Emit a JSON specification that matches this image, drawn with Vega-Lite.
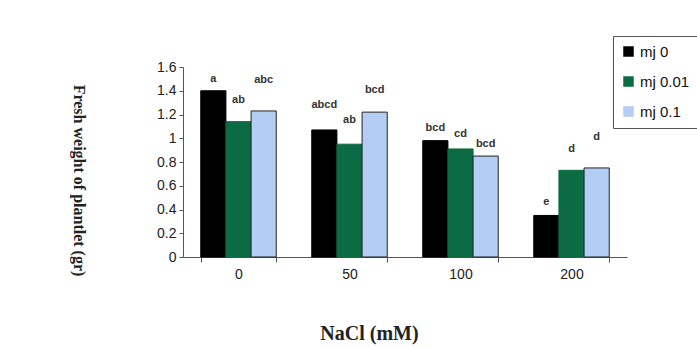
{
  "$schema": "https://vega.github.io/schema/vega-lite/v6.json",
  "autosize": {"type": "none"},
  "padding": {"left": 183, "top": 67, "right": 70, "bottom": 92},
  "width": 444,
  "height": 190,
  "background": "white",
  "config": {
    "view": {"stroke": null},
    "font": "Liberation Sans"
  },
  "resolve": {"axis": {"y": "independent"}},
  "data": {
    "values": [
      {"NaCl": "0", "mj": "mj 0", "weight": 1.40, "letter": "a", "letter_at": 1.50},
      {"NaCl": "0", "mj": "mj 0.01", "weight": 1.14, "letter": "ab", "letter_at": 1.32},
      {"NaCl": "0", "mj": "mj 0.1", "weight": 1.23, "letter": "abc", "letter_at": 1.49},
      {"NaCl": "50", "mj": "mj 0", "weight": 1.07, "letter": "abcd", "letter_at": 1.28},
      {"NaCl": "50", "mj": "mj 0.01", "weight": 0.95, "letter": "ab", "letter_at": 1.15},
      {"NaCl": "50", "mj": "mj 0.1", "weight": 1.22, "letter": "bcd", "letter_at": 1.41},
      {"NaCl": "100", "mj": "mj 0", "weight": 0.98, "letter": "bcd", "letter_at": 1.09},
      {"NaCl": "100", "mj": "mj 0.01", "weight": 0.91, "letter": "cd", "letter_at": 1.04},
      {"NaCl": "100", "mj": "mj 0.1", "weight": 0.85, "letter": "bcd", "letter_at": 0.95},
      {"NaCl": "200", "mj": "mj 0", "weight": 0.35, "letter": "e", "letter_at": 0.46},
      {"NaCl": "200", "mj": "mj 0.01", "weight": 0.73, "letter": "d", "letter_at": 0.91},
      {"NaCl": "200", "mj": "mj 0.1", "weight": 0.75, "letter": "d", "letter_at": 1.01}
    ]
  },
  "encoding": {
    "x": {
      "field": "NaCl", "type": "nominal", "sort": ["0", "50", "100", "200"],
      "scale": {"paddingInner": 0.32, "paddingOuter": 0.16},
      "axis": {
        "labelAngle": 0, "labelFont": "Liberation Sans", "labelFontSize": 14, "labelColor": "#222",
        "labelPadding": 5, "tickBand": "extent", "tickSize": 5, "tickColor": "#555",
        "domainColor": "#555", "title": "NaCl (mM)", "titleFont": "Liberation Serif",
        "titleFontSize": 20, "titleFontWeight": "bold", "titleColor": "#222",
        "titleX": 186, "titleY": 76, "titleAlign": "center", "titleBaseline": "middle"
      }
    },
    "xOffset": {
      "field": "mj", "type": "nominal", "sort": ["mj 0", "mj 0.01", "mj 0.1"],
      "scale": {"paddingInner": 0, "paddingOuter": 0}
    }
  },
  "layer": [
    {
      "mark": {"type": "bar", "strokeWidth": 1},
      "encoding": {
        "y": {
          "field": "weight", "type": "quantitative",
          "scale": {"domain": [0, 1.6], "nice": false},
          "axis": {
            "values": [0, 0.2, 0.4, 0.6, 0.8, 1, 1.2, 1.4, 1.6], "format": ".1~f",
            "labelOverlap": false, "labelFlush": false,
            "grid": false, "labelFont": "Liberation Sans", "labelFontSize": 14, "labelColor": "#222",
            "labelPadding": 3, "tickSize": 4, "tickColor": "#555", "domainColor": "#555",
            "title": "Fresh weight of plantlet (gr)", "titleFont": "Liberation Serif",
            "titleFontSize": 16, "titleFontWeight": "bold", "titleColor": "#222",
            "titleAngle": 90, "titleX": -105, "titleY": 113, "titleAlign": "center", "titleBaseline": "middle"
          }
        },
        "fill": {
          "field": "mj", "type": "nominal",
          "scale": {"domain": ["mj 0", "mj 0.01", "mj 0.1"], "range": ["#000000", "#0b6b43", "#b3cef5"]},
          "legend": {
            "title": null, "orient": "none", "legendX": 430, "legendY": -31,
            "symbolType": "square", "symbolSize": 110, "symbolStrokeWidth": 0,
            "labelFont": "Liberation Sans", "labelFontSize": 15, "labelColor": "#111",
            "labelOffset": 4, "rowPadding": 14, "padding": 8,
            "strokeColor": "#555", "fillColor": "white"
          }
        },
        "stroke": {
          "field": "mj", "type": "nominal",
          "scale": {"domain": ["mj 0", "mj 0.01", "mj 0.1"], "range": ["#000000", "#0b6b43", "#222222"]},
          "legend": null
        }
      }
    },
    {
      "mark": {"type": "text", "fontSize": 11, "fontWeight": "bold", "color": "#333", "baseline": "middle", "align": "center", "font": "Liberation Sans"},
      "encoding": {
        "y": {"field": "letter_at", "type": "quantitative", "axis": null},
        "text": {"field": "letter"}
      }
    }
  ]
}
